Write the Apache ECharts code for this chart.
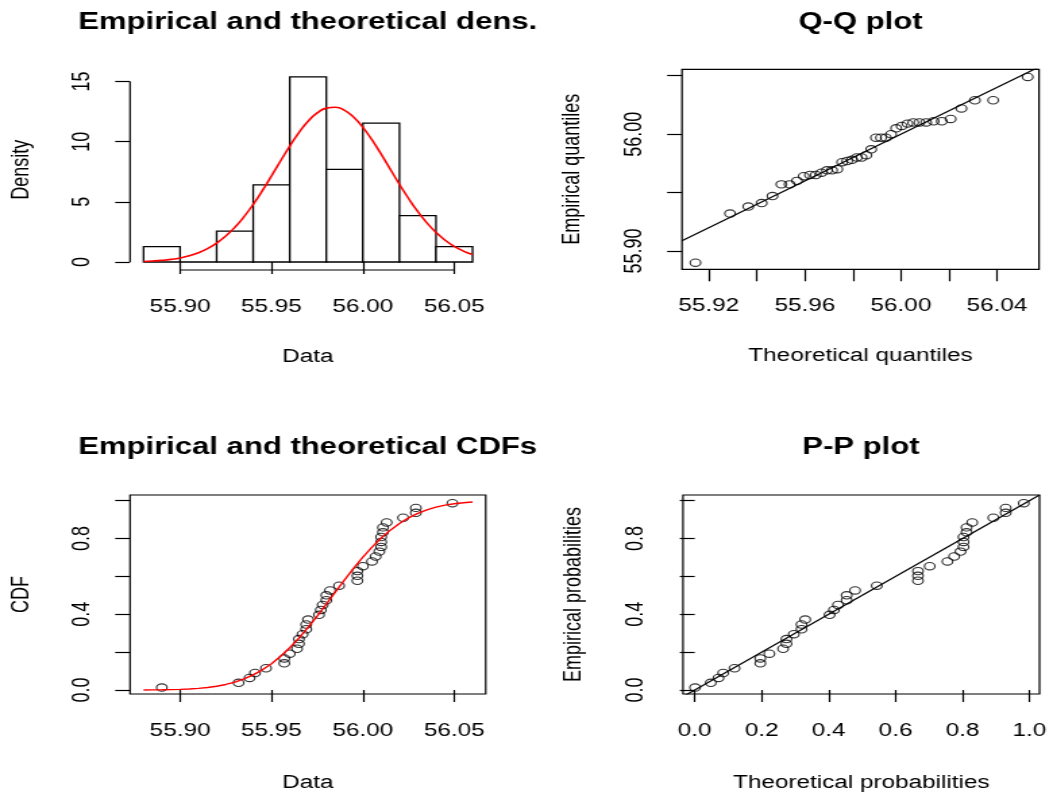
<!DOCTYPE html>
<html><head><meta charset="utf-8">
<script src="https://cdn.jsdelivr.net/npm/echarts@6/dist/echarts.min.js"></script>
<style>
html,body{margin:0;padding:0;background:#fff;overflow:hidden}
#wrap{width:1049px;height:796px;overflow:hidden;position:relative;background:#fff}
#chart{position:absolute;left:0;top:0;height:796px;transform-origin:0 0}
</style></head><body>
<div id="wrap"><div id="chart"></div></div>
<script>
// ---------- DATA ----------
const dataValues = [55.890, 55.932, 55.938, 55.941, 55.947, 55.957, 55.957, 55.960, 55.964, 55.965,
  55.965, 55.967, 55.969, 55.969, 55.970, 55.976, 55.977, 55.978, 55.980, 55.980,
  55.982, 55.987, 55.997, 55.997, 55.997, 56.000, 56.005, 56.007, 56.009, 56.010,
  56.010, 56.010, 56.011, 56.011, 56.013, 56.022, 56.029, 56.029, 56.049];
const empProb = [0.013, 0.038, 0.064, 0.090, 0.115, 0.141, 0.167, 0.192, 0.218, 0.244,
  0.269, 0.295, 0.321, 0.346, 0.372, 0.397, 0.423, 0.449, 0.474, 0.500,
  0.526, 0.551, 0.577, 0.603, 0.628, 0.654, 0.679, 0.705, 0.731, 0.756,
  0.782, 0.808, 0.833, 0.859, 0.885, 0.910, 0.936, 0.962, 0.987];
const theoQuantiles = [55.9144, 55.9288, 55.9364, 55.9420, 55.9465, 55.9502, 55.9536, 55.9567, 55.9595, 55.9621,
  55.9645, 55.9669, 55.9692, 55.9713, 55.9735, 55.9755, 55.9776, 55.9796, 55.9816, 55.9836,
  55.9856, 55.9876, 55.9896, 55.9917, 55.9937, 55.9959, 55.9980, 56.0003, 56.0027, 56.0051,
  56.0077, 56.0105, 56.0136, 56.0170, 56.0207, 56.0252, 56.0308, 56.0384, 56.0528];
const theoProb = [0.001, 0.048, 0.071, 0.085, 0.119, 0.196, 0.196, 0.223, 0.264, 0.274,
  0.274, 0.296, 0.319, 0.319, 0.330, 0.403, 0.416, 0.428, 0.454, 0.454,
  0.479, 0.544, 0.667, 0.667, 0.667, 0.702, 0.755, 0.775, 0.794, 0.803,
  0.803, 0.803, 0.812, 0.812, 0.829, 0.892, 0.929, 0.929, 0.983];
const histBreaks = [55.88, 55.90, 55.92, 55.94, 55.96, 55.98, 56.00, 56.02, 56.04, 56.06];
const histDensity = [1.28, 0, 2.56, 6.41, 15.38, 7.69, 11.54, 3.85, 1.28];
const curveX = [55.880, 55.885, 55.890, 55.895, 55.900, 55.905, 55.910, 55.915, 55.920, 55.925,
  55.930, 55.935, 55.940, 55.945, 55.950, 55.955, 55.960, 55.965, 55.970, 55.975,
  55.980, 55.985, 55.990, 55.995, 56.000, 56.005, 56.010, 56.015, 56.020, 56.025,
  56.030, 56.035, 56.040, 56.045, 56.050, 56.055, 56.060];
const densCurve = [0.048, 0.082, 0.135, 0.217, 0.339, 0.517, 0.769, 1.112, 1.568, 2.157,
  2.887, 3.766, 4.787, 5.929, 7.152, 8.409, 9.632, 10.750, 11.690, 12.384,
  12.784, 12.857, 12.598, 12.028, 11.189, 10.141, 8.956, 7.705, 6.459, 5.275,
  4.198, 3.255, 2.459, 1.811, 1.299, 0.907, 0.618];
const cdfCurve = [0.0004, 0.0007, 0.0013, 0.0021, 0.0035, 0.0056, 0.0088, 0.0134, 0.0201, 0.0294,
  0.0419, 0.0584, 0.0799, 0.1066, 0.1392, 0.1781, 0.2232, 0.2743, 0.3304, 0.3907,
  0.4538, 0.5180, 0.5818, 0.6435, 0.7016, 0.7550, 0.8028, 0.8444, 0.8799, 0.9092,
  0.9328, 0.9513, 0.9656, 0.9762, 0.9839, 0.9894, 0.9931];
// tick values / labels
const histXTicks = [55.90, 55.95, 56.00, 56.05];
const histYTicks = [0, 5, 10, 15];
const qqXTicks = [55.92, 55.94, 55.96, 55.98, 56.00, 56.02, 56.04];
const qqXLabels = [55.92, 55.96, 56.00, 56.04];
const qqYTicks = [55.90, 55.95, 56.00, 56.05];
const qqYLabels = [55.90, 56.00];
const cdfXTicks = [55.90, 55.95, 56.00, 56.05];
const probTicks = [0, 0.2, 0.4, 0.6, 0.8, 1.0];
const probYLabels = [0, 0.4, 0.8];
const titles = ['Empirical and theoretical dens.', 'Q-Q plot', 'Empirical and theoretical CDFs', 'P-P plot'];

// ---------- LAYOUT ----------
const S = 1.35;               // horizontal stretch of the reference picture
const X = v => v / S;
const FONT = '"Liberation Sans", Arial, Helvetica, sans-serif';
const el = document.getElementById('chart');
el.style.width = (1049 / S) + 'px';
el.style.transform = 'scaleX(' + S + ')';

const R = {
  hist: {x: [55.8726, 56.0672], y: [-0.664, 16.0]},
  qq:   {x: [55.9088, 56.0575], y: [55.8843, 56.0555]},
  cdf:  {x: [55.8726, 56.0672], y: [-0.021, 1.03]},
  pp:   {x: [-0.035, 1.03],     y: [-0.021, 1.03]}
};

const grids = [
  {left: X(130), top: 69.4, width: X(355.7), height: 200.6, show: false},
  {left: X(682), top: 69.3, width: X(357), height: 200, show: true, borderColor: '#000', borderWidth: 1.2},
  {left: X(130), top: 495, width: X(355.7), height: 199, show: true, borderColor: '#000', borderWidth: 1.2},
  {left: X(683), top: 495, width: X(356.5), height: 199, show: true, borderColor: '#000', borderWidth: 1.2}
].map(g => Object.assign({outerBoundsMode: 'none', containLabel: false, backgroundColor: 'transparent'}, g));

const lab = {color: '#000', fontSize: 18, fontFamily: FONT};
function xAx(i, r, ticks, labels, fmt, name, gap) {
  return {type: 'value', gridIndex: i, min: r[0], max: r[1], scale: true,
    axisLine: {show: false}, splitLine: {show: false},
    axisTick: {show: true, inside: false, length: 12, customValues: ticks, lineStyle: {color: '#000', width: 1.2}},
    axisLabel: Object.assign({show: true, margin: 28, customValues: labels, formatter: fmt}, lab),
    name: name, nameLocation: 'middle', nameGap: gap, nameTextStyle: lab};
}
function yAx(i, r, ticks, labels, fmt, name, gap) {
  return {type: 'value', gridIndex: i, min: r[0], max: r[1], scale: true,
    axisLine: {show: false}, splitLine: {show: false},
    axisTick: {show: true, inside: false, length: 11, customValues: ticks, lineStyle: {color: '#000', width: 1.2}},
    axisLabel: Object.assign({show: true, margin: 26, rotate: 90, customValues: labels, formatter: fmt}, lab),
    name: name, nameLocation: 'middle', nameGap: gap, nameTextStyle: lab};
}
const f2 = v => v.toFixed(2), f1 = v => v.toFixed(1), f0 = v => String(Math.round(v));

const xAxes = [
  xAx(0, R.hist.x, histXTicks, histXTicks, f2, 'Data', 78),
  xAx(1, R.qq.x, qqXTicks, qqXLabels, f2, 'Theoretical quantiles', 78),
  xAx(2, R.cdf.x, cdfXTicks, cdfXTicks, f2, 'Data', 80),
  xAx(3, R.pp.x, probTicks, probTicks, f1, 'Theoretical probabilities', 80)
];
const yAxes = [
  yAx(0, R.hist.y, histYTicks, histYTicks, f0, 'Density', 71),
  yAx(1, R.qq.y, qqYTicks, qqYLabels, f2, 'Empirical quantiles', 72),
  yAx(2, R.cdf.y, probTicks, probYLabels, f1, 'CDF', 71),
  yAx(3, R.pp.y, probTicks, probYLabels, f1, 'Empirical probabilities', 72)
];

const circle = {symbol: 'circle', symbolSize: [X(10.5), 7.4],
  itemStyle: {color: 'rgba(0,0,0,0)', borderColor: '#000', borderWidth: 1.1}};
const blackLine = {type: 'line', showSymbol: false, symbol: 'none', lineStyle: {color: '#000', width: 1.2}, silent: true};

const series = [
  {type: 'custom', xAxisIndex: 0, yAxisIndex: 0, z: 2,
    data: histDensity.map((d, i) => [histBreaks[i], histBreaks[i + 1], d]),
    encode: {x: [0, 1], y: 2},
    renderItem: (params, api) => {
      const p0 = api.coord([api.value(0), 0]);
      const p1 = api.coord([api.value(1), api.value(2)]);
      return {type: 'rect', shape: {x: p0[0], y: p1[1], width: p1[0] - p0[0], height: p0[1] - p1[1]},
        style: {fill: '#fff', stroke: '#000', lineWidth: 1.3}};
    }},
  {type: 'line', xAxisIndex: 0, yAxisIndex: 0, z: 3, showSymbol: false, smooth: true,
    data: curveX.map((x, i) => [x, densCurve[i]]), lineStyle: {color: '#ff0000', width: 1.6}},
  Object.assign({}, blackLine, {xAxisIndex: 0, yAxisIndex: 0, clip: false,
    data: [[histXTicks[0], R.hist.y[0]], [histXTicks[histXTicks.length - 1], R.hist.y[0]]]}),
  Object.assign({}, blackLine, {xAxisIndex: 0, yAxisIndex: 0, clip: false,
    data: [[R.hist.x[0], histYTicks[0]], [R.hist.x[0], histYTicks[histYTicks.length - 1]]]}),
  Object.assign({type: 'scatter', xAxisIndex: 1, yAxisIndex: 1,
    data: theoQuantiles.map((q, i) => [q, dataValues[i]])}, circle),
  Object.assign({}, blackLine, {xAxisIndex: 1, yAxisIndex: 1, clip: true,
    data: [[R.qq.x[0], R.qq.x[0]], [R.qq.x[1], R.qq.x[1]]]}),
  Object.assign({type: 'scatter', xAxisIndex: 2, yAxisIndex: 2,
    data: dataValues.map((v, i) => [v, empProb[i]])}, circle),
  {type: 'line', xAxisIndex: 2, yAxisIndex: 2, z: 3, showSymbol: false,
    data: curveX.map((x, i) => [x, cdfCurve[i]]), lineStyle: {color: '#ff0000', width: 1.4}},
  Object.assign({type: 'scatter', xAxisIndex: 3, yAxisIndex: 3,
    data: theoProb.map((p, i) => [p, empProb[i]])}, circle),
  Object.assign({}, blackLine, {xAxisIndex: 3, yAxisIndex: 3, clip: true,
    data: [[R.pp.x[0], R.pp.x[0]], [R.pp.x[1], R.pp.x[1]]]})
];

const titlePos = [[307.7, 22.5], [860.5, 22.5], [307.7, 447.5], [861, 447.5]];
const graphic = titles.map((t, i) => ({type: 'text', x: X(titlePos[i][0]), y: titlePos[i][1],
  style: {text: t, font: 'bold 23px ' + FONT, fill: '#000', textAlign: 'center', textVerticalAlign: 'middle'}}));

const chart = echarts.init(el, null, {renderer: 'canvas', width: 1049 / S, height: 796});
chart.setOption({
  animation: false, backgroundColor: '#fff',
  grid: grids, xAxis: xAxes, yAxis: yAxes, series: series, graphic: graphic
});
</script>
</body></html>
